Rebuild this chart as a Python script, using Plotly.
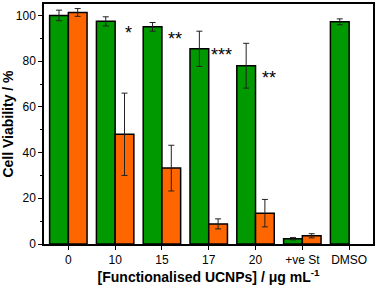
import plotly.graph_objects as go

categories = ["0", "10", "15", "17", "20", "+ve St", "DMSO"]
green_vals = [100.0, 97.4, 95.0, 85.4, 78.0, 2.3, 97.2]
green_err = [2.3, 2.0, 1.9, 7.7, 9.8, 0.5, 1.3]
orange_vals = [101.3, 48.0, 33.2, 8.8, 13.5, 3.6, None]
orange_err = [1.7, 18.0, 10.0, 2.2, 6.0, 0.9, None]
sig_labels = ["*", "**", "***", "**"]
sig_cat_index = [1, 2, 3, 4]
sig_y = [92.5, 89.5, 82.5, 72.7]

GREEN = "#009900"
ORANGE = "#FF6600"
FONT = "Liberation Sans, Arial, sans-serif"

fig = go.Figure()
fig.add_trace(go.Bar(
    x=categories, y=green_vals,
    marker=dict(color=GREEN, line=dict(color="black", width=1.5)),
    error_y=dict(type="data", array=green_err, color="#222222", thickness=1, width=3),
    showlegend=False,
))
fig.add_trace(go.Bar(
    x=categories, y=orange_vals,
    marker=dict(color=ORANGE, line=dict(color="black", width=1.5)),
    error_y=dict(type="data", array=orange_err, color="#222222", thickness=1, width=3),
    showlegend=False,
))

for lab, ci, yv in zip(sig_labels, sig_cat_index, sig_y):
    fig.add_annotation(
        x=ci, y=yv, xref="x", yref="y", text=lab, showarrow=False, xshift=13,
        xanchor="center", yanchor="middle",
        font=dict(family=FONT, size=18, color="black"),
    )

fig.update_layout(
    width=377, height=287,
    margin=dict(l=44, r=3, t=2, b=43),
    paper_bgcolor="white", plot_bgcolor="white",
    barmode="group", bargap=0.2, bargroupgap=0.0,
    font=dict(family=FONT, size=12, color="black"),
)
fig.update_xaxes(
    type="category", range=[-0.52, 6.51],
    showline=True, linecolor="black", linewidth=1.5, mirror=True,
    ticks="outside", ticklen=4, tickwidth=1, tickcolor="black",
    tickfont=dict(family=FONT, size=12),
    showgrid=False,
    title=dict(text="<b>[Functionalised UCNPs] / μg mL<sup>-1</sup></b>",
               font=dict(family=FONT, size=14), standoff=4),
)
fig.update_yaxes(
    range=[0, 105], tickvals=[0, 20, 40, 60, 80, 100],
    showline=True, linecolor="black", linewidth=1.5, mirror=True,
    ticks="outside", ticklen=4, tickwidth=1, tickcolor="black",
    minor=dict(tickvals=[10, 30, 50, 70, 90], ticks="outside", ticklen=2, tickwidth=1, tickcolor="black"),
    tickfont=dict(family=FONT, size=12),
    showgrid=False, zeroline=False,
    title=dict(text="<b>Cell Viability / %</b>", font=dict(family=FONT, size=14), standoff=3),
)

fig.write_html("out.html", config={"displayModeBar": False},
               post_script="document.body.style.margin='0';")
